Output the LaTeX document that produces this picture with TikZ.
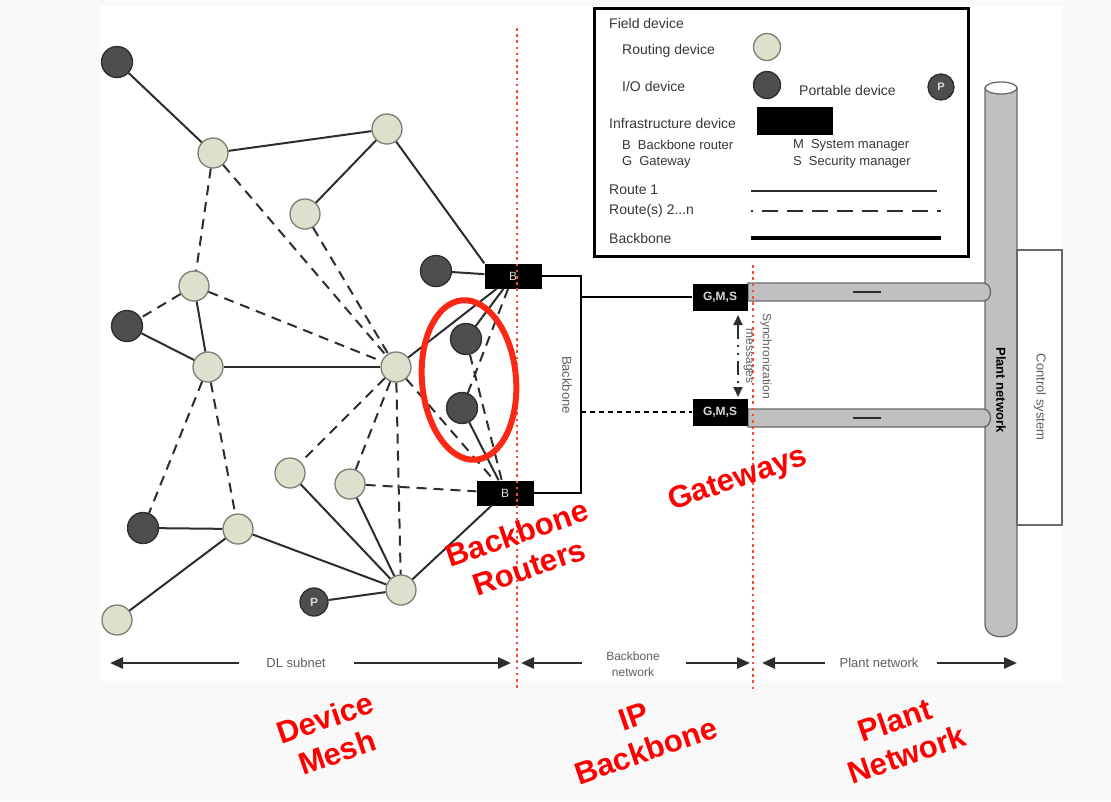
\documentclass[tikz,border=0pt]{standalone}
\usepackage{fontspec}
\setmainfont{Liberation Sans}
\usetikzlibrary{arrows.meta,shapes.geometric}

\definecolor{pagebg}{RGB}{249,249,249}
\definecolor{routefill}{RGB}{221,224,204}
\definecolor{routeedge}{RGB}{125,125,115}
\definecolor{iofill}{RGB}{78,78,78}
\definecolor{ioedge}{RGB}{45,45,45}
\definecolor{edgecol}{RGB}{45,45,45}
\definecolor{labelgray}{RGB}{55,55,55}
\definecolor{softgray}{RGB}{95,95,95}
\definecolor{pipefill}{RGB}{192,192,192}
\definecolor{pipeedge}{RGB}{105,105,105}
\definecolor{zonered}{RGB}{255,0,0}
\definecolor{markred}{RGB}{250,40,20}
\definecolor{dotred}{RGB}{248,75,55}
\definecolor{boxtext}{RGB}{215,215,215}

\newcommand{\fsz}[2]{\fontsize{#1}{#2}\selectfont}

\tikzset{
  rnode/.style={circle, minimum size=30pt, inner sep=0pt, fill=routefill, draw=routeedge, line width=1.3pt},
  ionode/.style={circle, minimum size=31pt, inner sep=0pt, fill=iofill, draw=ioedge, line width=1.3pt},
  pnode/.style={ionode, minimum size=28pt, text=boxtext, font=\fsz{12}{12}\bfseries},
  infra/.style={rectangle, fill=black, inner sep=0pt, minimum width=57pt, minimum height=25pt, text=boxtext, font=\fsz{12}{12}},
  gms/.style={infra, minimum width=55pt, minimum height=27pt, font=\fsz{12}{12}\bfseries},
  route/.style={draw=edgecol, line width=2pt},
  altroute/.style={route, dash pattern=on 10pt off 7pt},
  bbone/.style={draw=black, line width=2.6pt},
  legtext/.style={anchor=west, inner sep=0pt, text=labelgray, font=\fsz{14}{14}},
  dimtext/.style={inner sep=0pt, text=softgray, font=\fsz{13}{13}, align=center},
  zonelabel/.style={text=zonered, font=\fsz{31}{36}\bfseries, align=center, rotate=19, inner sep=0pt},
  zoneline/.style={draw=dotred, line width=2.6pt, dash pattern=on 2.6pt off 3.6pt},
  pipe/.style={fill=pipefill, draw=pipeedge, line width=1.3pt},
  spanarrow/.style={draw=edgecol, line width=2.6pt, -{Triangle[length=13pt,width=11pt]}},
}

\begin{document}
\begin{tikzpicture}[x=1pt,y=-1pt]
\useasboundingbox (0,0) rectangle (1111,801);
\fill[pagebg] (0,0) rectangle (1111,801);
\fill[white] (100,6) rectangle (1063,681);

% ---------- legend ----------
\draw[black, line width=3pt, fill=white] (594,8) rectangle (968,256);
\node[legtext] (lgField) at (609,23) {Field device};
\node[legtext] (lgRouting) at (622,51) {Routing device};
\node[rnode, minimum size=27pt] (lgRnode) at (767,47) {};
\node[legtext] (lgIO) at (622,86) {I/O device};
\node[ionode, minimum size=27pt] (lgIOnode) at (767,85) {};
\node[legtext] (lgPortable) at (799,90) {Portable device};
\node[pnode, minimum size=26pt, font=\fsz{11}{11}\bfseries] (lgPnode) at (941,87) {P};
\node[legtext] (lgInfra) at (609,123) {Infrastructure device};
\node[rectangle, fill=black, minimum width=76pt, minimum height=28pt, inner sep=0pt] (lgInfraBox) at (795,121) {};
\node[legtext, font=\fsz{13}{13}] (lgB) at (622,145) {B\hspace{7pt}Backbone router};
\node[legtext, font=\fsz{13}{13}] (lgG) at (622,162) {G\hspace{7pt}Gateway};
\node[legtext, font=\fsz{13}{13}] (lgM) at (793,145) {M\hspace{7pt}System manager};
\node[legtext, font=\fsz{13}{13}] (lgS) at (793,162) {S\hspace{7pt}Security manager};
\node[legtext] (lgR1) at (609,190) {Route 1};
\node[legtext] (lgR2) at (609,211) {Route(s) 2...n};
\node[legtext] (lgBb) at (609,238) {Backbone};
\coordinate (lgR1a) at (751,191); \coordinate (lgR1b) at (937,191);
\coordinate (lgR2a) at (751,211); \coordinate (lgR2b) at (941,211);
\coordinate (lgBba) at (751,238); \coordinate (lgBbb) at (941,238);
\draw[route] (lgR1a) -- (lgR1b);
\draw[route, dash pattern=on 16pt off 9pt, dash phase=14pt] (lgR2a) -- (lgR2b);
\draw[bbone, line width=3.4pt] (lgBba) -- (lgBbb);

% ---------- plant network pipes ----------
\draw[pipe] (985,88) -- (985,624) .. controls (985,641) and (1017,641) .. (1017,624) -- (1017,88) -- cycle;
\filldraw[fill=white, draw=pipeedge, line width=1.3pt] (1001,88) ellipse [x radius=16, y radius=6];
\node[rotate=-90, font=\fsz{13}{13}\bfseries, text=black, inner sep=0pt] (plantLbl) at (1001,390) {Plant network};
\draw[draw=pipeedge, line width=1.3pt, fill=white] (1017,250) rectangle (1062,525);
\node[rotate=-90, font=\fsz{13}{13}, text=softgray, inner sep=0pt] (ctrlLbl) at (1040,397) {Control system};
\draw[pipe] (748,283) -- (983,283) .. controls (993,283) and (993,301) .. (983,301) -- (748,301) -- cycle;
\draw[pipe] (748,409) -- (983,409) .. controls (993,409) and (993,427) .. (983,427) -- (748,427) -- cycle;
\draw[edgecol, line width=1.6pt] (853,292) -- (881,292);
\draw[edgecol, line width=1.6pt] (853,418) -- (881,418);

% ---------- mesh nodes ----------
\node[ionode] (D1) at (117,62) {};
\node[rnode] (L1) at (213,153) {};
\node[rnode] (L2) at (387,129) {};
\node[rnode] (L3) at (305,214) {};
\node[rnode] (L4) at (194,286) {};
\node[ionode] (D2) at (436,271) {};
\node[ionode] (D3) at (127,326) {};
\node[rnode] (L5) at (208,367) {};
\node[rnode] (L6) at (396,367) {};
\node[ionode] (D4) at (466,339) {};
\node[ionode] (D5) at (462,408) {};
\node[rnode] (L7) at (290,473) {};
\node[rnode] (L8) at (350,484) {};
\node[ionode] (D6) at (143,528) {};
\node[rnode] (L9) at (238,529) {};
\node[rnode] (L10) at (401,590) {};
\node[pnode] (P1) at (314,602) {P};
\node[rnode] (L11) at (117,620) {};

% ---------- infrastructure devices ----------
\node[infra] (B1) at (513,276) {B};
\node[infra] (B2) at (505,493) {B};
\node[gms] (GMS1) at (720,297) {G,M,S};
\node[gms] (GMS2) at (720,412) {G,M,S};

% ---------- routes ----------
\draw[route] (D1) -- (L1);
\draw[route] (L1) -- (L2);
\draw[route] (L2) -- (L3);
\draw[route] (L2) -- (B1.north west);
\draw[route] (D2) -- (B1);
\draw[route] (L4) -- (L5);
\draw[route] (D3) -- (L5);
\draw[route] (L5) -- (L6);
\draw[route] (L6) -- (B1);
\draw[route] (D4) -- (B1);
\draw[route] (D5) -- (B2);
\draw[route] (D6) -- (L9);
\draw[route] (L9) -- (L11);
\draw[route] (L9) -- (L10);
\draw[route] (L7) -- (L10);
\draw[route] (L8) -- (L10);
\draw[route] (P1) -- (L10);
\draw[route] (L10) -- (B2);

\draw[altroute] (L1) -- (L4);
\draw[altroute] (L1) -- (L6);
\draw[altroute] (L3) -- (L6);
\draw[altroute] (L4) -- (D3);
\draw[altroute] (L4) -- (L6);
\draw[altroute] (L5) -- (D6);
\draw[altroute] (L5) -- (L9);
\draw[altroute] (L6) -- (L7);
\draw[altroute] (L6) -- (L8);
\draw[altroute] (L6) -- (L10);
\draw[altroute] (L8) -- (B2);
\draw[altroute] (L6) -- (B2);
\draw[altroute] (B1) -- (D5);
\draw[altroute] (D4) -- (B2);

% ---------- backbone ----------
\coordinate (bbTop) at (581,276);
\coordinate (bbBot) at (581,493);
\draw[bbone] (B1.east) -- (bbTop) -- (bbBot) -- (B2.east);
\draw[bbone] (bbTop |- GMS1.west) -- (GMS1.west);
\draw[bbone, dash pattern=on 5pt off 4pt] (bbTop |- GMS2.west) -- (GMS2.west);
\node[rotate=-90, font=\fsz{13}{13}, text=softgray, inner sep=0pt] (bbLbl) at (567,385) {Backbone};

% synchronization between gateways
\coordinate (syncTop) at (738,315);
\coordinate (syncBot) at (738,397);
\draw[edgecol, line width=2pt, dash pattern=on 14pt off 6pt on 2pt off 6pt on 2pt off 6pt,
  {Triangle[length=10pt,width=9pt]}-{Triangle[length=10pt,width=9pt]}] (syncTop) -- (syncBot);
\node[rotate=-90, font=\fsz{12}{12}, text=softgray, inner sep=0pt] (syncLbl) at (766,356) {Synchronization};
\node[rotate=-90, font=\fsz{12}{12}, text=softgray, inner sep=0pt] (msgLbl) at (748,356) {messages};

% ---------- span arrows ----------
\node[dimtext] (spanDL) at (296,663) {DL subnet};
\draw[spanarrow] (239,663) -- (110,663);
\draw[spanarrow] (354,663) -- (511,663);
\node[dimtext, font=\fsz{12}{16}] (spanBB) at (633,664) {Backbone\\network};
\draw[spanarrow] (582,663) -- (521,663);
\draw[spanarrow] (686,663) -- (750,663);
\node[dimtext] (spanPN) at (879,663) {Plant network};
\draw[spanarrow] (825,663) -- (762,663);
\draw[spanarrow] (937,663) -- (1017,663);

% ---------- zone boundaries ----------
\draw[zoneline] (517,28) -- (517,691);
\draw[zoneline] (753,265) -- (753,691);

% highlighted field devices
\draw[markred, line width=6pt, rotate around={5:(469,380)}] (469,380) ellipse [x radius=47, y radius=80];

% ---------- zone labels ----------
\node[zonelabel] (zMesh) at (331,735) {Device\\Mesh};
\node[zonelabel] (zRouters) at (523,550) {Backbone\\Routers};
\node[zonelabel] (zIP) at (640,734) {IP\\Backbone};
\node[zonelabel] (zGw) at (738,480) {Gateways};
\node[zonelabel] (zPlant) at (901,737) {Plant\\Network};
\end{tikzpicture}
\end{document}
